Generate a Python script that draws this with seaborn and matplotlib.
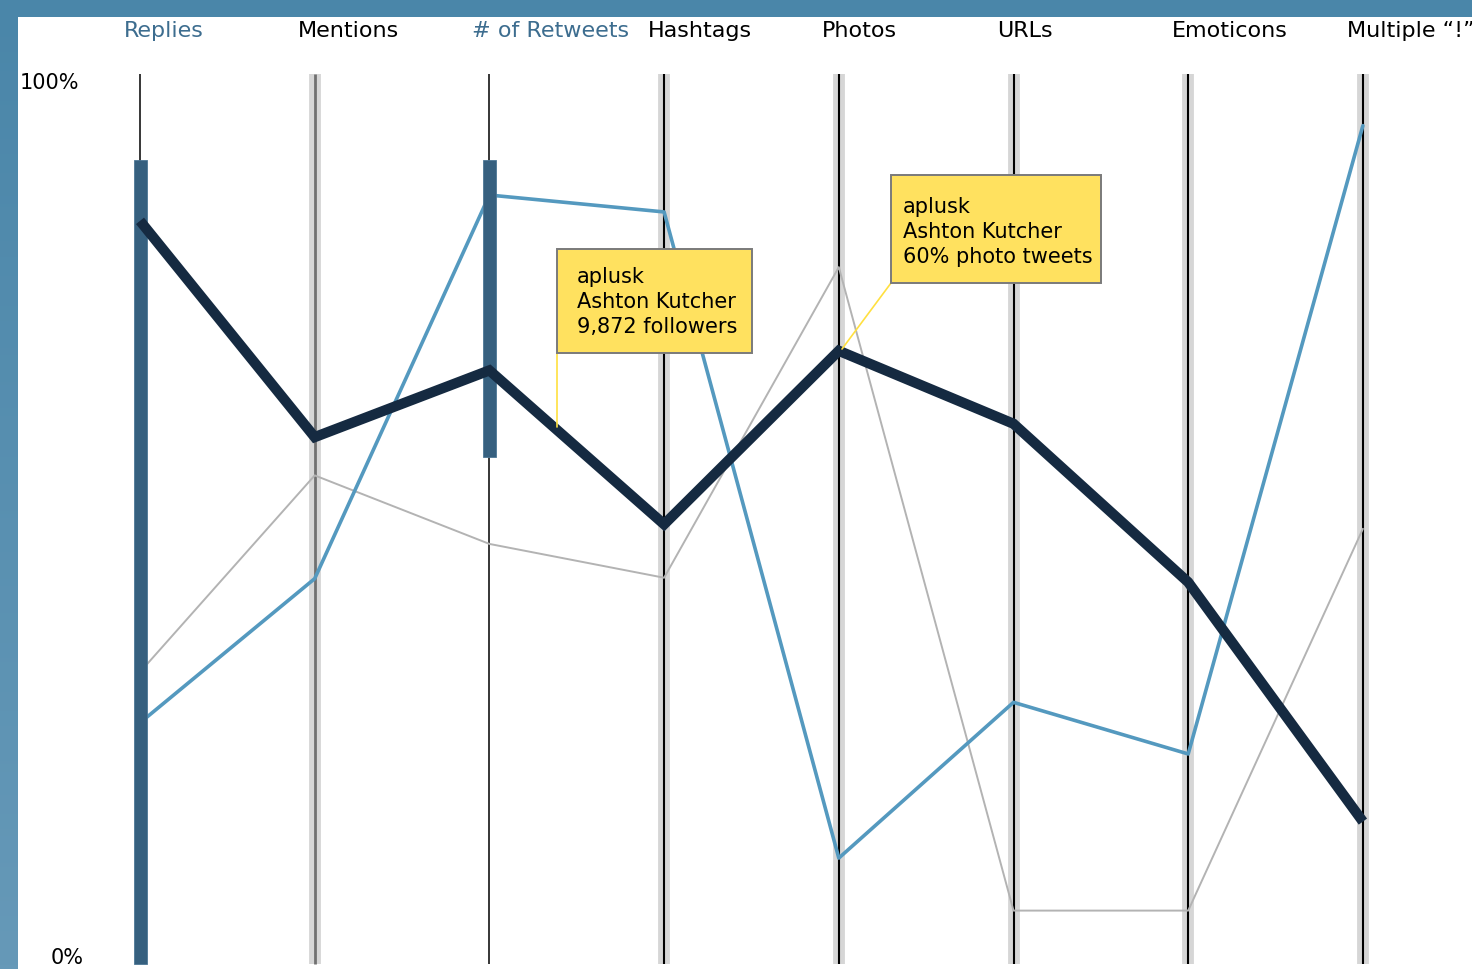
import numpy as np
import pandas as pd
import matplotlib
matplotlib.use("Agg")
import matplotlib.pyplot as plt
import seaborn as sns
from matplotlib.patches import Rectangle
from matplotlib.colors import LinearSegmentedColormap

# Data: one value (percent of range) per axis
dimensions = ["Replies", "Mentions", "# of Retweets", "Hashtags", "Photos",
              "URLs", "Emoticons", "Multiple \u201c!\u201d"]
aplusk = [83.5, 59.2, 66.7, 49.4, 68.9, 60.7, 42.9, 16.0]
blue_user = [27.1, 43.3, 86.4, 84.5, 11.9, 29.4, 23.6, 94.2]
gray_user = [32.8, 54.9, 47.2, 43.4, 78.3, 6.0, 6.0, 48.9]

# Brushed selections on two axes (low, high)
brush_axes = [0, 2]
brush_lo = [0.0, 57.0]
brush_hi = [90.3, 90.3]

callout_1 = ["aplusk", "Ashton Kutcher", "9,872 followers"]
callout_2 = ["aplusk", "Ashton Kutcher", "60% photo tweets"]

# pixel helpers for layout (axis 0 at x=140, spacing ~174.7; 0% at y=965, 100% at y=75)
X0, DX = 140, 174.7
Y0, DY = 965, 8.9
def px(x):
    return (x - X0) / DX
def py(y):
    return (Y0 - y) / DY

sns.set_theme(style="white")
plt.rcParams["font.family"] = ["DejaVu Sans"]

fig = plt.figure(figsize=(14.72, 9.70), dpi=100)
ax = fig.add_axes([0, 0, 1, 1])
ax.set_xlim(px(0), px(1472))
ax.set_ylim(py(970), py(0))
ax.axis("off")

xs = np.arange(len(dimensions))

# axis lines
for i in xs:
    if i in brush_axes:
        ax.vlines(i, 0, 100, color="black", linewidth=1.1, zorder=1)
    else:
        ax.vlines(i, 0, 100, color="#d6d6d6", linewidth=8.5, zorder=1)
        if i == 1:
            ax.vlines(i, 0, 100, color="#707070", linewidth=2.0, zorder=1.1)
        else:
            ax.vlines(i, 0, 100, color="black", linewidth=1.5, zorder=1.1)

# context lines
sns.lineplot(x=xs, y=gray_user, ax=ax, color="#b3b3b3", linewidth=1.4,
             sort=False, zorder=2)
sns.lineplot(x=xs, y=blue_user, ax=ax, color="#5499bf", linewidth=2.6,
             sort=False, zorder=3)

# brushes
ax.bar(brush_axes, np.array(brush_hi) - np.array(brush_lo), bottom=brush_lo,
       width=13 / DX, color="#36607f", edgecolor="#4d7896", linewidth=0.6,
       zorder=4)

# highlighted line
sns.lineplot(x=xs, y=aplusk, ax=ax, color="#152a41", linewidth=7.4,
             sort=False, zorder=5)
for ln in ax.lines[-1:]:
    ln.set_solid_joinstyle("miter")
    ln.set_solid_capstyle("butt")

# dimension labels
label_x = [124, 298, 472, 648, 822, 997, 1172, 1347]
for i, name in enumerate(dimensions):
    col = "#3d6d8f" if i in brush_axes else "black"
    ax.text(px(label_x[i]), py(31), name, ha="left", va="center",
            fontsize=16, color=col, zorder=6)

ax.text(px(20), py(83), "100%", ha="left", va="center", fontsize=15, color="black")
ax.text(px(84), py(958), "0%", ha="right", va="center", fontsize=15, color="black")

# callouts
def callout(box, text_x, text_y, lines, leader):
    x1, y1, x2, y2 = box
    (lx1, ly1), (lx2, ly2) = leader
    ax.plot([px(lx1), px(lx2)], [py(ly1), py(ly2)], color="#ffe040",
            linewidth=1.2, zorder=6)
    ax.add_patch(Rectangle((px(x1), py(y2)), px(x2) - px(x1), py(y1) - py(y2),
                           facecolor="#ffe15f", edgecolor="#7a7a7a",
                           linewidth=1.4, zorder=7))
    ax.text(px(text_x), py(text_y), "\n".join(lines), ha="left", va="center",
            fontsize=15, linespacing=1.32, color="black", zorder=8)

callout((557, 250, 752, 354), 577, 302, callout_1, ((557, 354), (557, 428)))
callout((891, 176, 1101, 284), 903, 232, callout_2, ((891, 284), (842, 350)))

# frame bars
grad = LinearSegmentedColormap.from_list("edge", ["#4a86a9", "#6699b8"])
lax = fig.add_axes([0, 0, 18 / 1472, 1])
lax.imshow(np.linspace(0, 1, 256).reshape(-1, 1), aspect="auto", cmap=grad)
lax.axis("off")
fig.add_artist(Rectangle((0, 1 - 18 / 970), 1, 18 / 970, transform=fig.transFigure,
                         facecolor="#4a86a9", edgecolor="none", zorder=10))

fig.savefig("out.png", dpi=100)
